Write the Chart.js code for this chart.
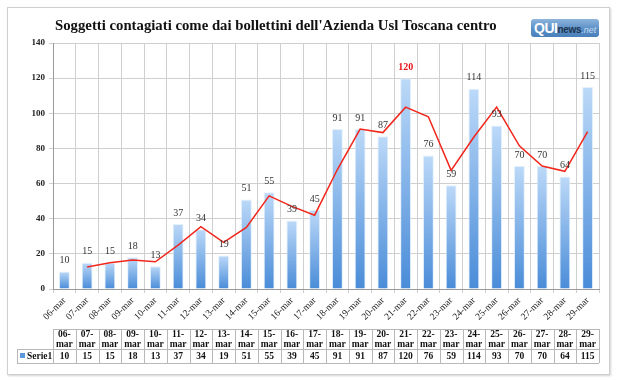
<!DOCTYPE html>
<html>
<head>
<meta charset="utf-8">
<script src="https://cdn.jsdelivr.net/npm/chart.js@4/dist/chart.umd.min.js"></script>
<style>
  body { margin: 0; background: #fff; }
  #wrap { position: relative; width: 617px; height: 380px; }
  #frame { position: absolute; left: 7px; top: 7px; width: 601px; height: 366px; border: 1px solid #cfcfcf; box-shadow: 1px 1px 2px rgba(0,0,0,0.18); }
  #logo { position: absolute; left: 531px; top: 19px; width: 68px; height: 18px; border-radius: 3px;
    background: linear-gradient(#8db4dc, #5a8fc6 55%, #4a80ba); font-family: "Liberation Sans", Arial, sans-serif;
    line-height: 18px; white-space: nowrap; overflow: hidden; }
  #logo .q { color: #fff; font-weight: bold; font-size: 14px; margin-left: 3px; letter-spacing: -0.5px; }
  #logo .n { color: #1f3550; font-weight: bold; font-size: 10px; letter-spacing: -0.3px; }
  #logo .t { color: #c4dbf2; font-style: italic; font-size: 9px; }
  canvas { position: absolute; left: 0; top: 0; }
</style>
</head>
<body>
<div id="wrap">
  <div id="frame"></div>
  <canvas id="myChart" width="617" height="380"></canvas>
  <div id="logo"><span class="q">QUI</span><span class="n">news</span><span class="t">.net</span></div>
</div>
<script>
(() => {
  'use strict'

  const chartTitle = "Soggetti contagiati come dai bollettini dell'Azienda Usl Toscana centro"
  const seriesName = 'Serie1'
  const labels = [
    '06-mar', '07-mar', '08-mar', '09-mar', '10-mar', '11-mar', '12-mar', '13-mar',
    '14-mar', '15-mar', '16-mar', '17-mar', '18-mar', '19-mar', '20-mar', '21-mar',
    '22-mar', '23-mar', '24-mar', '25-mar', '26-mar', '27-mar', '28-mar', '29-mar'
  ]
  const values = [10, 15, 15, 18, 13, 37, 34, 19, 51, 55, 39, 45, 91, 91, 87, 120, 76, 59, 114, 93, 70, 70, 64, 115]
  // trend line (media mobile a 2 periodi)
  const trend = [null, 12.5, 15, 16.5, 15.5, 25, 35.5, 26.5, 35, 53, 47, 42, 68, 91, 89, 103.5, 98, 67.5, 86.5, 103.5, 81.5, 70, 67, 89.5]
  const yMax = 140
  const yStep = 20
  const highlight = 120

  const serif = '"Liberation Serif", "DejaVu Serif", serif'

  const barGradient = (context) => {
    const chart = context.chart
    const y = chart.scales.y
    if (!y || !chart.chartArea || context.raw == null) return '#7fb0e6'
    const top = y.getPixelForValue(context.raw)
    const bottom = y.getPixelForValue(0)
    const g = chart.ctx.createLinearGradient(0, top, 0, bottom)
    g.addColorStop(0, '#bcd9f8')
    g.addColorStop(1, '#4a8cd8')
    return g
  }

  const extras = {
    id: 'extras',
    afterDatasetsDraw(chart) {
      const ctx = chart.ctx
      // dataset 1 is the bar series
      const meta = chart.getDatasetMeta(1)
      ctx.save()
      ctx.textAlign = 'center'
      ctx.textBaseline = 'bottom'
      meta.data.forEach((bar, i) => {
        const v = values[i]
        if (v === highlight) {
          ctx.fillStyle = '#e8141b'
          ctx.font = 'bold 10px ' + serif
        } else {
          ctx.fillStyle = '#333'
          ctx.font = '10px ' + serif
        }
        ctx.fillText(String(v), bar.x, bar.y - 6)
      })
      ctx.restore()
    },
    afterDraw(chart) {
      const ctx = chart.ctx
      const x = chart.scales.x
      ctx.save()

      // title
      let size = 16
      ctx.font = 'bold ' + size + 'px ' + serif
      while (ctx.measureText(chartTitle).width > 445 && size > 10) {
        size -= 0.25
        ctx.font = 'bold ' + size + 'px ' + serif
      }
      ctx.fillStyle = '#111'
      ctx.textAlign = 'left'
      ctx.textBaseline = 'alphabetic'
      ctx.fillText(chartTitle, 55, 30)

      // data table
      const rowTop = 329
      const rowMid = 349
      const rowBot = 363
      const half = (x.getPixelForValue(1) - x.getPixelForValue(0)) / 2
      const left = x.getPixelForValue(0) - half
      const right = x.getPixelForValue(labels.length - 1) + half
      ctx.strokeStyle = '#b8b8b8'
      ctx.lineWidth = 1
      ctx.beginPath()
      ctx.moveTo(left, rowTop + 0.5); ctx.lineTo(right, rowTop + 0.5)
      ctx.moveTo(17, rowMid + 0.5); ctx.lineTo(right, rowMid + 0.5)
      ctx.moveTo(17, rowBot + 0.5); ctx.lineTo(right, rowBot + 0.5)
      ctx.moveTo(17.5, rowMid); ctx.lineTo(17.5, rowBot)
      for (let i = 0; i <= labels.length; i++) {
        const bx = Math.round(left + i * half * 2) + 0.5
        ctx.moveTo(bx, rowTop); ctx.lineTo(bx, rowBot)
      }
      ctx.stroke()

      ctx.fillStyle = '#111'
      ctx.font = 'bold 9.5px ' + serif
      ctx.textAlign = 'center'
      ctx.textBaseline = 'middle'
      labels.forEach((lab, i) => {
        const cx = x.getPixelForValue(i)
        const parts = lab.split('-')
        ctx.fillText(parts[0] + '-', cx, rowTop + 6)
        ctx.fillText(parts[1], cx, rowTop + 15.5)
        ctx.fillText(String(values[i]), cx, (rowMid + rowBot) / 2 + 1)
      })

      // legend key
      ctx.fillStyle = '#5b98dc'
      ctx.fillRect(20, 353, 5, 5)
      ctx.fillStyle = '#111'
      ctx.textAlign = 'left'
      ctx.fillText(seriesName, 27, (rowMid + rowBot) / 2 + 1)
      ctx.restore()
    }
  }

  const ctx = document.getElementById('myChart')
  // eslint-disable-next-line no-unused-vars
  const myChart = new Chart(ctx, {
    type: 'bar',
    data: {
      labels: labels,
      datasets: [{
        type: 'line',
        label: 'trend',
        data: trend,
        borderColor: '#f2261b',
        borderWidth: 1.5,
        pointRadius: 0,
        tension: 0,
        fill: false,
        spanGaps: false,
        order: 0
      }, {
        label: seriesName,
        data: values,
        backgroundColor: barGradient,
        borderColor: 'rgba(225,238,252,0.9)',
        borderWidth: 1,
        categoryPercentage: 1,
        barPercentage: 0.48,
        order: 1
      }]
    },
    plugins: [extras],
    options: {
      responsive: false,
      animation: false,
      layout: { padding: { left: 15, right: 18, top: 43, bottom: 0 } },
      plugins: {
        legend: { display: false },
        title: { display: false },
        tooltip: { enabled: false }
      },
      scales: {
        x: {
          offset: true,
          grid: { offset: true, color: '#cfcfcf', tickLength: 4 },
          border: { color: '#9a9a9a' },
          ticks: {
            minRotation: 45,
            maxRotation: 45,
            autoSkip: false,
            padding: 2,
            color: '#222',
            font: { family: serif, size: 9.5 }
          },
          afterFit: (scale) => { scale.height = 91 }
        },
        y: {
          min: 0,
          max: yMax,
          grid: { color: '#cfcfcf', tickLength: 4 },
          border: { color: '#9a9a9a' },
          ticks: {
            stepSize: yStep,
            padding: 4,
            color: '#222',
            font: { family: serif, size: 9, weight: 'bold' }
          },
          afterFit: (scale) => { scale.width = 38 }
        }
      }
    }
  })
})()
</script>
</body>
</html>
